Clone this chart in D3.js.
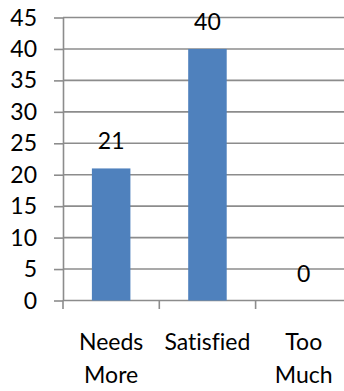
<!DOCTYPE html>
<html>
<head>
<meta charset="utf-8">
<script src="https://cdn.jsdelivr.net/npm/d3@7"></script>
<style>
  html, body { margin: 0; padding: 0; background: #fff; }
  svg { display: block; }
  text { font-family: Lato, "Open Sans", sans-serif; fill: #000; font-variant-ligatures: none; }
</style>
</head>
<body>
<svg id="chart" width="344" height="391"></svg>
<script>
const categories = [["Needs", "More"], ["Satisfied"], ["Too", "Much"]];
const values = [21, 40, 0];
const yTicks = [0, 5, 10, 15, 20, 25, 30, 35, 40, 45];

(function () {
const svg = d3.select("#chart");
const W = 344;
const plotLeft = 63, plotTop = 17.5, plotBottom = 300.5;
const bandW = 96.3;
const fontSize = 23;
const grey = "#8c8c8c";

const keys = categories.map((c, i) => i);
const x = d3.scaleBand().domain(keys).range([plotLeft, plotLeft + bandW * 3]).padding(0);
const y = d3.scaleLinear().domain([0, 45]).range([plotBottom, plotTop]);

// gridlines
svg.append("g").selectAll("line").data(yTicks).join("line")
  .attr("x1", plotLeft).attr("x2", W + 20)
  .attr("y1", d => y(d)).attr("y2", d => y(d))
  .attr("stroke", grey).attr("stroke-width", 1.6);

// y axis
const yAxis = d3.axisLeft(y).tickValues(yTicks).tickSize(9).tickPadding(17).tickSizeOuter(0);
const gy = svg.append("g").attr("transform", `translate(${plotLeft},0)`).call(yAxis);
gy.select(".domain").attr("stroke", grey).attr("stroke-width", 1.6);
gy.selectAll(".tick line").attr("stroke", grey).attr("stroke-width", 1.6);
gy.selectAll(".tick text").attr("font-size", fontSize).attr("font-family", "Lato, sans-serif").attr("fill", "#000").attr("dy", "0.33em");

// x axis ticks at band boundaries
const boundaries = keys.map(k => x(k)).concat([x(keys[keys.length - 1]) + x.bandwidth()]);
svg.append("g").selectAll("line").data(boundaries).join("line")
  .attr("x1", d => d).attr("x2", d => d)
  .attr("y1", plotBottom).attr("y2", plotBottom + 8.5)
  .attr("stroke", grey).attr("stroke-width", 1.6);

// bars
const barW = x.bandwidth() * 0.4;
svg.append("g").selectAll("rect").data(values).join("rect")
  .attr("x", (d, i) => x(i) + x.bandwidth() / 2 - barW / 2)
  .attr("width", barW)
  .attr("y", d => y(d))
  .attr("height", d => y(0) - y(d))
  .attr("fill", "#4F81BD");

// data labels
svg.append("g").selectAll("text").data(values).join("text")
  .attr("x", (d, i) => x(i) + x.bandwidth() / 2)
  .attr("y", d => y(d) - 19)
  .attr("text-anchor", "middle")
  .attr("font-size", fontSize)
  .text(d => d);

// category labels
const cat = svg.append("g").selectAll("text").data(categories).join("text")
  .attr("text-anchor", "middle")
  .attr("font-size", fontSize);
cat.each(function(lines, i) {
  const t = d3.select(this);
  lines.forEach((ln, j) => {
    t.append("tspan")
      .attr("x", x(i) + x.bandwidth() / 2)
      .attr("y", 350 + j * 33)
      .text(ln);
  });
});
})();
</script>
</body>
</html>
